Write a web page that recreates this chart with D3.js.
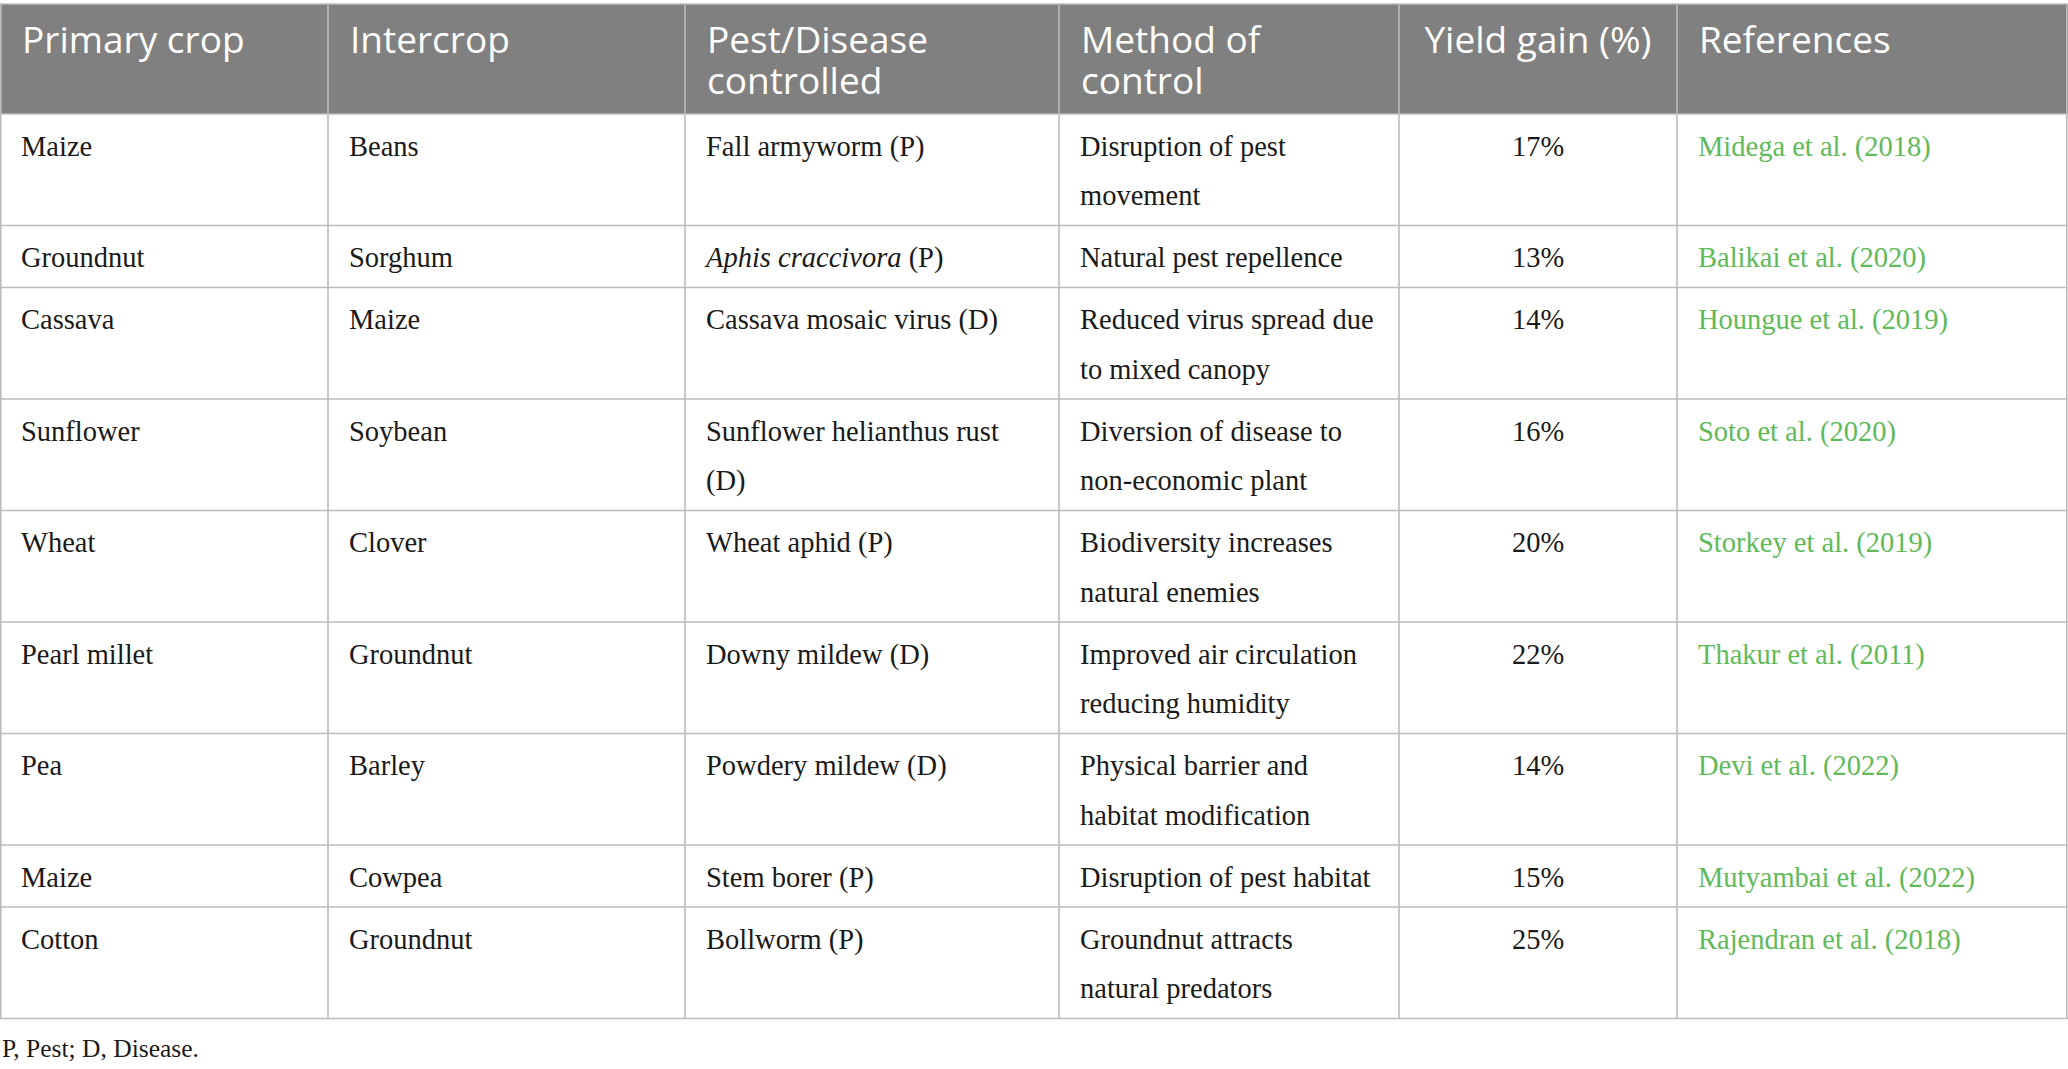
<!DOCTYPE html>
<html>
<head>
<meta charset="utf-8">
<script src="https://cdn.jsdelivr.net/npm/d3@7"></script>
<style>
  html, body { margin: 0; padding: 0; background: #fff; }
  svg { display: block; }
</style>
</head>
<body>
<div id="chart"></div>
<script>
// table content, one array per column
var headers = ["Primary crop", "Intercrop", "Pest/Disease\ncontrolled", "Method of\ncontrol", "Yield gain (%)", "References"];

var primaryCrops = ["Maize", "Groundnut", "Cassava", "Sunflower", "Wheat", "Pearl millet", "Pea", "Maize", "Cotton"];
var intercrops = ["Beans", "Sorghum", "Maize", "Soybean", "Clover", "Groundnut", "Barley", "Cowpea", "Groundnut"];
var pestsControlled = [
  "Fall armyworm (P)",
  "*Aphis craccivora* (P)",
  "Cassava mosaic virus (D)",
  "Sunflower helianthus rust\n(D)",
  "Wheat aphid (P)",
  "Downy mildew (D)",
  "Powdery mildew (D)",
  "Stem borer (P)",
  "Bollworm (P)"
];
var controlMethods = [
  "Disruption of pest\nmovement",
  "Natural pest repellence",
  "Reduced virus spread due\nto mixed canopy",
  "Diversion of disease to\nnon-economic plant",
  "Biodiversity increases\nnatural enemies",
  "Improved air circulation\nreducing humidity",
  "Physical barrier and\nhabitat modification",
  "Disruption of pest habitat",
  "Groundnut attracts\nnatural predators"
];
var yieldGain = [17, 13, 14, 16, 20, 22, 14, 15, 25];
var references = [
  "Midega et al. (2018)", "Balikai et al. (2020)", "Houngue et al. (2019)",
  "Soto et al. (2020)", "Storkey et al. (2019)", "Thakur et al. (2011)",
  "Devi et al. (2022)", "Mutyambai et al. (2022)", "Rajendran et al. (2018)"
];
var footnote = "P, Pest; D, Disease.";

// layout
var W = 2068, H = 1069;
var colWidths = [328, 357, 374, 340, 278, 391];
var colEdges = [0].concat(Array.from(d3.cumsum(colWidths)));
var headTop = 4, headBottom = 114;
var lineH = 49.5, rowPad = 12.5, padL = 21;

var rows = primaryCrops.map(function(d, i) {
  return [d, intercrops[i], pestsControlled[i], controlMethods[i], yieldGain[i] + "%", references[i]];
});
var rowLines = rows.map(function(r) {
  return d3.max(r, function(c) { return c.split("\n").length; });
});
var rowEdges = [headBottom].concat(Array.from(d3.cumsum(rowLines, function(n) { return rowPad + n * lineH; }), function(v) { return v + headBottom; }));
var tableBottom = rowEdges[rowEdges.length - 1];

var x = d3.scaleOrdinal().domain(d3.range(colEdges.length)).range(colEdges);
var y = d3.scaleOrdinal().domain(d3.range(rowEdges.length)).range(rowEdges);

var svg = d3.select("#chart").append("svg")
  .attr("width", W)
  .attr("height", H);

// header band
svg.append("rect")
  .attr("x", 0).attr("y", headTop)
  .attr("width", W).attr("height", headBottom - headTop)
  .attr("fill", "#7f807f");

// grid lines
var grid = svg.append("g").attr("stroke", "#bcbcbc").attr("stroke-width", 1.6);
grid.selectAll("line.h")
  .data([headTop].concat(rowEdges))
  .enter().append("line")
  .attr("class", "h")
  .attr("x1", 0).attr("x2", W)
  .attr("y1", function(d) { return d; })
  .attr("y2", function(d) { return d; });
grid.selectAll("line.v")
  .data(d3.range(colEdges.length))
  .enter().append("line")
  .attr("class", "v")
  .attr("x1", function(i) { return Math.min(Math.max(x(i), 0.8), W - 1.2); })
  .attr("x2", function(i) { return Math.min(Math.max(x(i), 0.8), W - 1.2); })
  .attr("y1", headTop)
  .attr("y2", tableBottom);

// header text, one text per line
var headText = svg.append("g")
  .attr("font-family", "'Open Sans', 'Noto Sans', sans-serif")
  .attr("font-size", 37)
  .attr("fill", "#ffffff");
headers.forEach(function(h, ci) {
  var centered = ci === 4;
  var hx = centered ? (x(ci) + x(ci + 1)) / 2 : x(ci) + padL + 1;
  h.split("\n").forEach(function(line, li) {
    headText.append("text")
      .attr("text-anchor", centered ? "middle" : "start")
      .attr("x", hx)
      .attr("y", headTop + 49 + li * 40.6)
      .text(line);
  });
});

// body text
var body = svg.append("g")
  .attr("font-family", "'Liberation Serif', 'Times New Roman', serif")
  .attr("font-size", 28.5);
rows.forEach(function(r, ri) {
  r.forEach(function(cell, ci) {
    var centered = ci === 4;
    var tx = centered ? (x(ci) + x(ci + 1)) / 2 : x(ci) + padL;
    var t = body.append("text")
      .attr("text-anchor", centered ? "middle" : "start")
      .attr("fill", ci === 5 ? "#5fba5a" : "#1a1a1a");
    cell.split("\n").forEach(function(line, li) {
      var ts = t.append("tspan")
        .attr("x", tx)
        .attr("y", y(ri) + 41.5 + li * lineH);
      // *...* marks italic (species names)
      line.split("*").forEach(function(seg, si) {
        if (!seg) return;
        ts.append("tspan")
          .attr("font-style", si % 2 === 1 ? "italic" : "normal")
          .text(seg);
      });
    });
  });
});

// footnote
svg.append("text")
  .attr("x", 2)
  .attr("y", tableBottom + 38)
  .attr("font-family", "'Liberation Serif', 'Times New Roman', serif")
  .attr("font-size", 25.5)
  .attr("fill", "#1a1a1a")
  .text(footnote);
</script>
</body>
</html>
